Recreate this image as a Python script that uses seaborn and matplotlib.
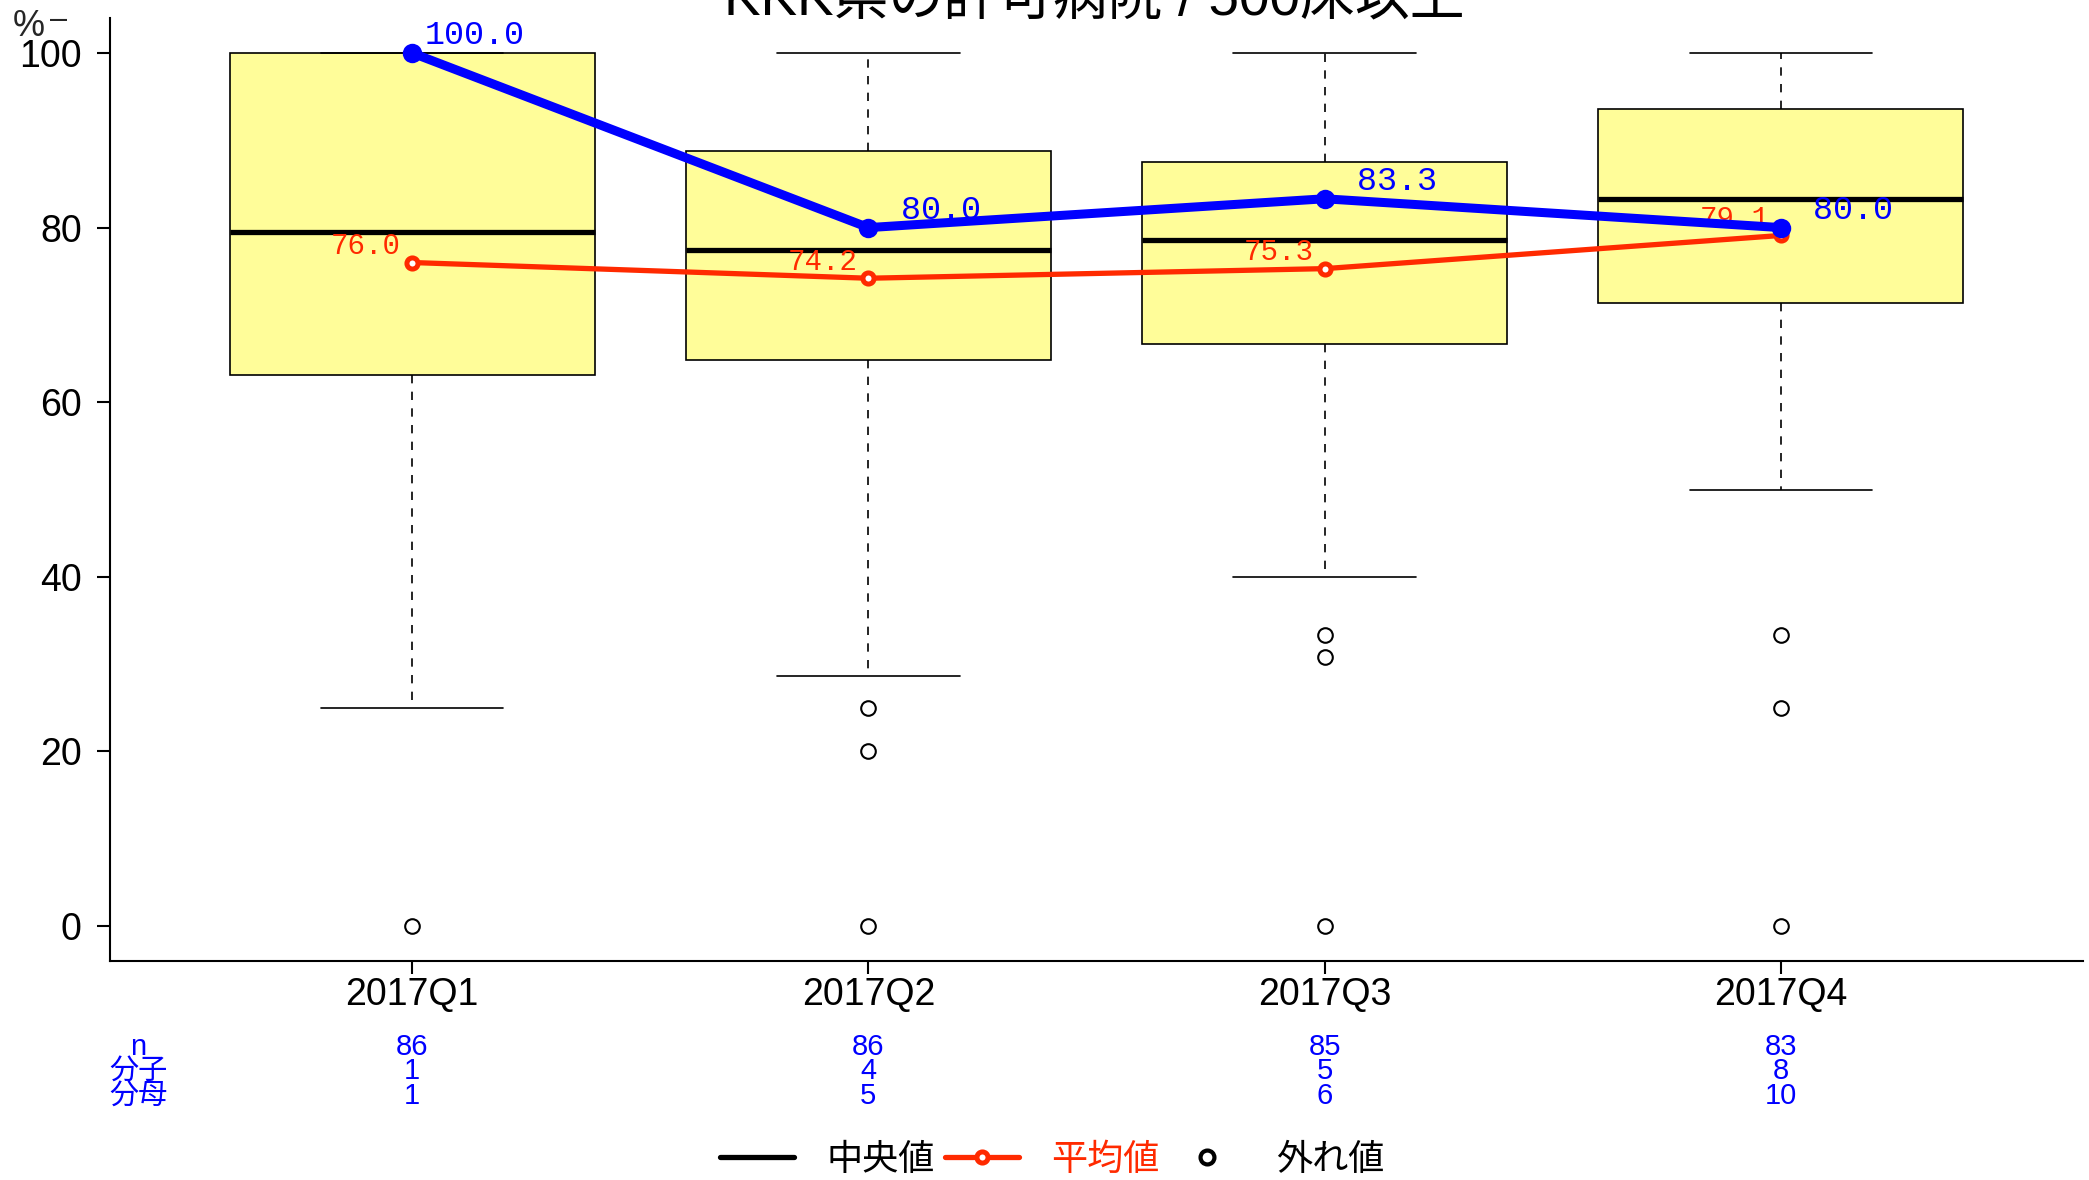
import numpy as np
import matplotlib
matplotlib.use('Agg')
import matplotlib.pyplot as plt
import seaborn as sns
from matplotlib.lines import Line2D

# === DATA ===
quarters = ['2017Q1', '2017Q2', '2017Q3', '2017Q4']
box_q1 = [63.1, 64.8, 66.7, 71.4]
box_med = [79.5, 77.4, 78.6, 83.3]
box_q3 = [100.0, 88.8, 87.5, 93.6]
whisker_lo = [25.0, 28.6, 40.0, 50.0]
whisker_hi = [100.0, 100.0, 100.0, 100.0]
outliers = [[0.0], [25.0, 20.0, 0.0], [33.3, 30.8, 0.0], [33.3, 25.0, 0.0]]
means = [76.0, 74.2, 75.3, 79.1]          # 平均値 (red)
own_rate = [100.0, 80.0, 83.3, 80.0]      # own hospital (blue)
n_hosp = [86, 86, 85, 83]
numer = [1, 4, 5, 8]
denom = [1, 5, 6, 10]
row_labels = ['n', '分子', '分母']
legend_labels = ['中央値', '平均値', '外れ値']
title = 'KKK県の許可病院 / 500床以上'

red = '#FF2A00'
blue = '#0000FF'
box_fill = '#FFFD99'

sns.set_style('ticks')
plt.rcParams['font.family'] = ['Liberation Sans', 'Noto Sans CJK JP']

fig = plt.figure(figsize=(20.89, 11.80), dpi=100)
ax = fig.add_axes([0.0527, 0.1856, 0.9444, 0.7991])

pos = np.arange(len(quarters))

# === BOXES ===
stats = [dict(q1=a, med=m, q3=b, whislo=lo, whishi=hi, fliers=f)
         for a, m, b, lo, hi, f in zip(box_q1, box_med, box_q3, whisker_lo, whisker_hi, outliers)]
ax.bxp(stats, positions=pos, widths=0.8, capwidths=0.4, patch_artist=True, showfliers=True,
       boxprops=dict(facecolor=box_fill, edgecolor='black', linewidth=1.2),
       medianprops=dict(color='black', linewidth=3.8),
       whiskerprops=dict(color='black', linewidth=1.2, linestyle=(0, (5, 5))),
       capprops=dict(color='black', linewidth=1.2),
       flierprops=dict(marker='o', markerfacecolor='none', markeredgecolor='black',
                       markersize=10.5, markeredgewidth=1.5))

# === MEAN LINE (red) ===
sns.lineplot(x=pos, y=means, ax=ax, color=red, linewidth=3.8, marker='o', markersize=8,
             markeredgewidth=3.6, markerfacecolor='white', markeredgecolor=red,
             legend=False, zorder=3)
for x, v in zip(pos, means):
    ax.annotate(f'{v:.1f}', (x, v), xytext=(-8, 12), textcoords='offset points',
                ha='right', va='center', color=red, fontsize=21,
                family='Liberation Mono', zorder=4)

# === OWN HOSPITAL LINE (blue) ===
sns.lineplot(x=pos, y=own_rate, ax=ax, color=blue, linewidth=6.5, marker='o', markersize=14,
             markeredgewidth=0, markerfacecolor=blue, legend=False, zorder=5)
for x, v in zip(pos, own_rate):
    ax.annotate(f'{v:5.1f}', (x, v), xytext=(9, 12.5), textcoords='offset points',
                ha='left', va='center', color=blue, fontsize=24,
                family='Liberation Mono', zorder=6)

# === AXES ===
ax.set_xlim(-0.662, 3.662)
ax.set_ylim(-4, 104)
ax.set_yticks([0, 20, 40, 60, 80, 100])
ax.set_xticks(pos, quarters)
ax.tick_params(axis='both', labelsize=27, length=9.4, width=1.5, direction='out',
               color='black', labelcolor='black')
ax.tick_params(axis='y', pad=11)
ax.tick_params(axis='x', pad=2)
sns.despine(ax=ax)
for s in ['left', 'bottom']:
    ax.spines[s].set_linewidth(1.5)
    ax.spines[s].set_color('black')
ax.set_xlabel('')
ax.set_ylabel('')
ax.grid(False)

# === COUNT TABLE UNDER THE AXIS ===
row_y = [-0.0912, -0.1166, -0.1432]
for yy, lab, vals in zip(row_y, row_labels, [n_hosp, numer, denom]):
    ax.text(0.0142, yy, lab, transform=ax.transAxes, ha='center', va='center',
            color=blue, fontsize=21)
    for x, v in zip(pos, vals):
        ax.text(x, yy, str(v), transform=ax.get_xaxis_transform(), ha='center',
                va='center', color=blue, fontsize=21)

# === LEGEND ===
handles = [Line2D([], [], color='black', lw=3.8),
           Line2D([], [], color=red, lw=3.8, marker='o', ms=8, mew=3.6, mfc='white', mec=red),
           Line2D([], [], ls='none', marker='o', ms=10, mew=3, mfc='none', mec='black')]
leg = fig.legend(handles, legend_labels, loc='center', bbox_to_anchor=(0.5036, 0.0165),
                 ncol=3, frameon=False, fontsize=26, handlelength=2.05, handletextpad=0.9,
                 columnspacing=0.28, borderpad=0, borderaxespad=0)
for t, c in zip(leg.get_texts(), ['black', red, 'black']):
    t.set_color(c)

# === TITLE (partly cut off at the top, as in the reference) ===
fig.text(0.524, 1 - 14 / 1180, title, ha='center', va='baseline', fontsize=39.5, color='black')
fig.text(13 / 2089, 1 - 36 / 1180, '%', ha='left', va='baseline', fontsize=26)
fig.text(50 / 2089, 1 - 28 / 1180, '–', ha='left', va='baseline', fontsize=22)

fig.savefig('out.png', dpi=100)
